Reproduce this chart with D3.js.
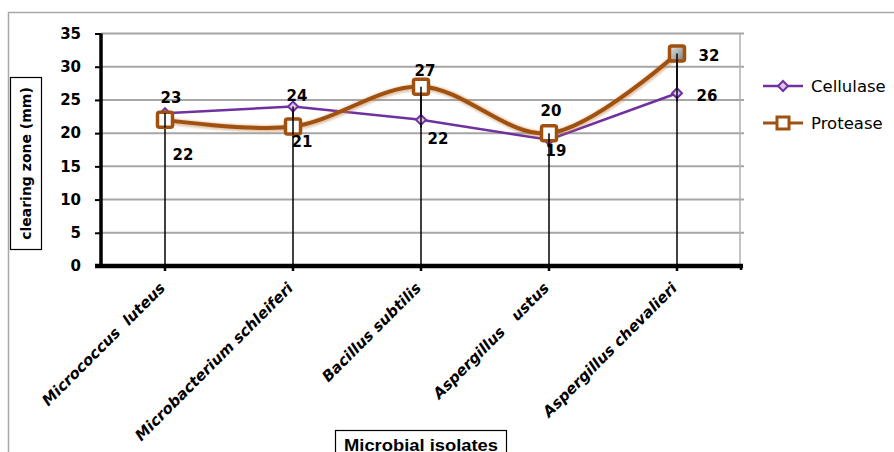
<!DOCTYPE html>
<html><head><meta charset="utf-8">
<script src="https://cdn.jsdelivr.net/npm/d3@7"></script>
<style>body{margin:0;background:#fff;} svg{display:block;}</style>
</head><body>
<svg id="c" width="894" height="452"></svg>
<script>
const categories = ["Micrococcus  luteus","Microbacterium schleiferi","Bacillus subtilis","Aspergillus   ustus","Aspergillus chevalieri"];
const cellulase = [23, 24, 22, 19, 26];
const protease = [22, 21, 27, 20, 32];
const yTicks = [0, 5, 10, 15, 20, 25, 30, 35];
const seriesNames = ["Cellulase", "Protease"];
// label placement offsets (style, not data)
const cellLabelOff = [[6,-16],[4,-11],[17,19],[7,11],[30,2]];
const protLabelOff = [[18,35],[9,15],[4,-16],[2,-23],[32,2]];

const svg = d3.select("#c");
const F = "'DejaVu Sans', Verdana, sans-serif";
const pL = 101, pR = 741, pT = 33.5, pB = 266;
const x = d3.scaleBand().domain(categories).range([pL, pR]).paddingInner(0).paddingOuter(0);
const cx = d => x(d) + x.bandwidth()/2;
const y = d3.scaleLinear().domain([0, 35]).range([pB, pT]);

const defs = svg.append("defs");
defs.append("filter").attr("id","blur").attr("x","-10%").attr("y","-50%").attr("width","120%").attr("height","200%")
  .append("feGaussianBlur").attr("stdDeviation", 1.3);
const g1 = defs.append("linearGradient").attr("id","grayg").attr("x1",0).attr("y1",0).attr("x2",1).attr("y2",1);
g1.append("stop").attr("offset","0%").attr("stop-color","#e8e8e8");
g1.append("stop").attr("offset","100%").attr("stop-color","#7a7a7a");

// outer frame
svg.append("path").attr("d","M8.5,452 V12.5 H894").attr("fill","none").attr("stroke","#a8a8a8").attr("stroke-width",1.5);

// gridlines
svg.append("g").selectAll("line").data(yTicks.filter(t=>t>0)).join("line")
  .attr("x1", pL).attr("x2", pR+3).attr("y1", d=>y(d)).attr("y2", d=>y(d))
  .attr("stroke","#a6a6a6").attr("stroke-width",2);
// right border
svg.append("line").attr("x1", pR-1).attr("x2", pR-1).attr("y1", y(35)).attr("y2", pB)
  .attr("stroke","#b0b0b0").attr("stroke-width",1.5);

// drop lines from max value to axis
svg.append("g").selectAll("line").data(categories).join("line")
  .attr("x1", d=>cx(d)).attr("x2", d=>cx(d))
  .attr("y1", (d,i)=>y(Math.max(cellulase[i], protease[i]))).attr("y2", pB)
  .attr("stroke","#000").attr("stroke-width",1.5);

// y axis
const yAxis = svg.append("g").attr("transform",`translate(${pL},0)`)
  .call(d3.axisLeft(y).tickValues(yTicks).tickSize(6).tickPadding(14));
yAxis.select(".domain").attr("stroke","#000").attr("stroke-width",3.5).attr("d",`M0,${y(35)}V${pB}`);
yAxis.selectAll(".tick line").attr("stroke","#000").attr("stroke-width",2);
yAxis.selectAll(".tick text").attr("font-family",F).attr("font-weight","bold").attr("font-size","15px").attr("fill","#000");

// x axis
const xAxis = svg.append("g").attr("transform",`translate(0,${pB})`)
  .call(d3.axisBottom(x).tickSize(5).tickFormat(""));
xAxis.select(".domain").attr("stroke","#000").attr("stroke-width",4.5).attr("d",`M${pL-6},0H${pR+2}`);
xAxis.selectAll(".tick line").attr("stroke","#000").attr("stroke-width",2.5);
xAxis.append("line").attr("x1",pR).attr("x2",pR).attr("y1",0).attr("y2",4).attr("stroke","#000").attr("stroke-width",2.5);

// category labels
svg.append("g").selectAll("text").data(categories).join("text")
  .attr("transform", d=>`translate(${cx(d)+1},${pB+23}) rotate(-45)`)
  .attr("text-anchor","end")
  .attr("font-family",F).attr("font-weight","bold").attr("font-style","italic").attr("font-size","15px")
  .attr("fill","#000").style("white-space","pre").text(d=>d);

// Cellulase line
const lineStraight = d3.line().x((v,i)=>cx(categories[i])).y(v=>y(v));
svg.append("path").datum(cellulase).attr("d", lineStraight).attr("fill","none")
  .attr("stroke","#7030A0").attr("stroke-width",2.5);
const diamond = s => `M0,${-s}L${s},0L0,${s}L${-s},0Z`;
svg.append("g").selectAll("path").data(cellulase).join("path")
  .attr("transform",(v,i)=>`translate(${cx(categories[i])},${y(v)})`)
  .attr("d", diamond(5)).attr("fill","#d9c6ea").attr("stroke","#7030A0").attr("stroke-width",2);

// Protease smooth line with glow
const lineSmooth = d3.line().x((v,i)=>cx(categories[i])).y(v=>y(v)).curve(d3.curveCatmullRom.alpha(0.5));
svg.append("path").datum(protease).attr("d", lineSmooth).attr("fill","none")
  .attr("stroke","#c08550").attr("stroke-width",6.5).attr("opacity",0.5).attr("filter","url(#blur)")
  .attr("transform","translate(0.8,0.8)");
svg.append("path").datum(protease).attr("d", lineSmooth).attr("fill","none")
  .attr("stroke","#A0500F").attr("stroke-width",4);
svg.append("g").selectAll("rect").data(protease).join("rect")
  .attr("x",(v,i)=>cx(categories[i])-7.5).attr("y",v=>y(v)-7.5)
  .attr("width",15).attr("height",15).attr("rx",2)
  .attr("fill",(v,i)=>i===protease.length-1?"url(#grayg)":"#fff")
  .attr("stroke","#A0500F").attr("stroke-width",3.5);

// drop line tops over markers
svg.append("g").selectAll("line").data(categories).join("line")
  .attr("x1", d=>cx(d)).attr("x2", d=>cx(d))
  .attr("y1", (d,i)=>y(Math.max(cellulase[i], protease[i]))).attr("y2", (d,i)=>y(Math.min(cellulase[i], protease[i]))+8)
  .attr("stroke","#000").attr("stroke-width",1.5);

// data labels
const lbl = (vals, offs) => svg.append("g").selectAll("text").data(vals).join("text")
  .attr("x",(v,i)=>cx(categories[i])+offs[i][0]).attr("y",(v,i)=>y(v)+offs[i][1]+5.5)
  .attr("text-anchor","middle").attr("font-family",F).attr("font-weight","bold").attr("font-size","15px")
  .attr("fill","#000").text(v=>v);
lbl(cellulase, cellLabelOff);
lbl(protease, protLabelOff);

// y title
svg.append("rect").attr("x",10.5).attr("y",77.5).attr("width",31).attr("height",172)
  .attr("fill","#fff").attr("stroke","#000").attr("stroke-width",1.2);
svg.append("text").attr("transform","translate(31,163.5) rotate(-90)").attr("text-anchor","middle")
  .attr("font-family",F).attr("font-weight","bold").attr("font-size","14px").attr("fill","#000")
  .text("clearing zone (mm)");

// x title
svg.append("rect").attr("x",335.5).attr("y",430.5).attr("width",171).attr("height",40)
  .attr("fill","#fff").attr("stroke","#000").attr("stroke-width",1.2);
svg.append("text").attr("x",421).attr("y",451).attr("text-anchor","middle")
  .attr("font-family","'Liberation Sans', Arial, sans-serif").attr("font-weight","bold").attr("font-size","16px")
  .attr("textLength",154).attr("lengthAdjust","spacingAndGlyphs").attr("fill","#000")
  .text("Microbial isolates");

// legend
const lg = svg.append("g");
const ly = [86, 123];
lg.append("line").attr("x1",763).attr("x2",803).attr("y1",ly[0]).attr("y2",ly[0]).attr("stroke","#7030A0").attr("stroke-width",2.5);
lg.append("path").attr("transform",`translate(783,${ly[0]})`).attr("d",diamond(5)).attr("fill","#d9c6ea").attr("stroke","#7030A0").attr("stroke-width",2);
lg.append("line").attr("x1",763).attr("x2",803).attr("y1",ly[1]).attr("y2",ly[1]).attr("stroke","#A0500F").attr("stroke-width",3);
lg.append("rect").attr("x",777).attr("y",ly[1]-6).attr("width",12).attr("height",12).attr("fill","#fff").attr("stroke","#A0500F").attr("stroke-width",3);
lg.selectAll("text").data(seriesNames).join("text")
  .attr("x",811).attr("y",(d,i)=>ly[i]+6).attr("font-family",F).attr("font-size","16.5px").attr("fill","#000")
  .text(d=>d);
</script>
</body></html>
